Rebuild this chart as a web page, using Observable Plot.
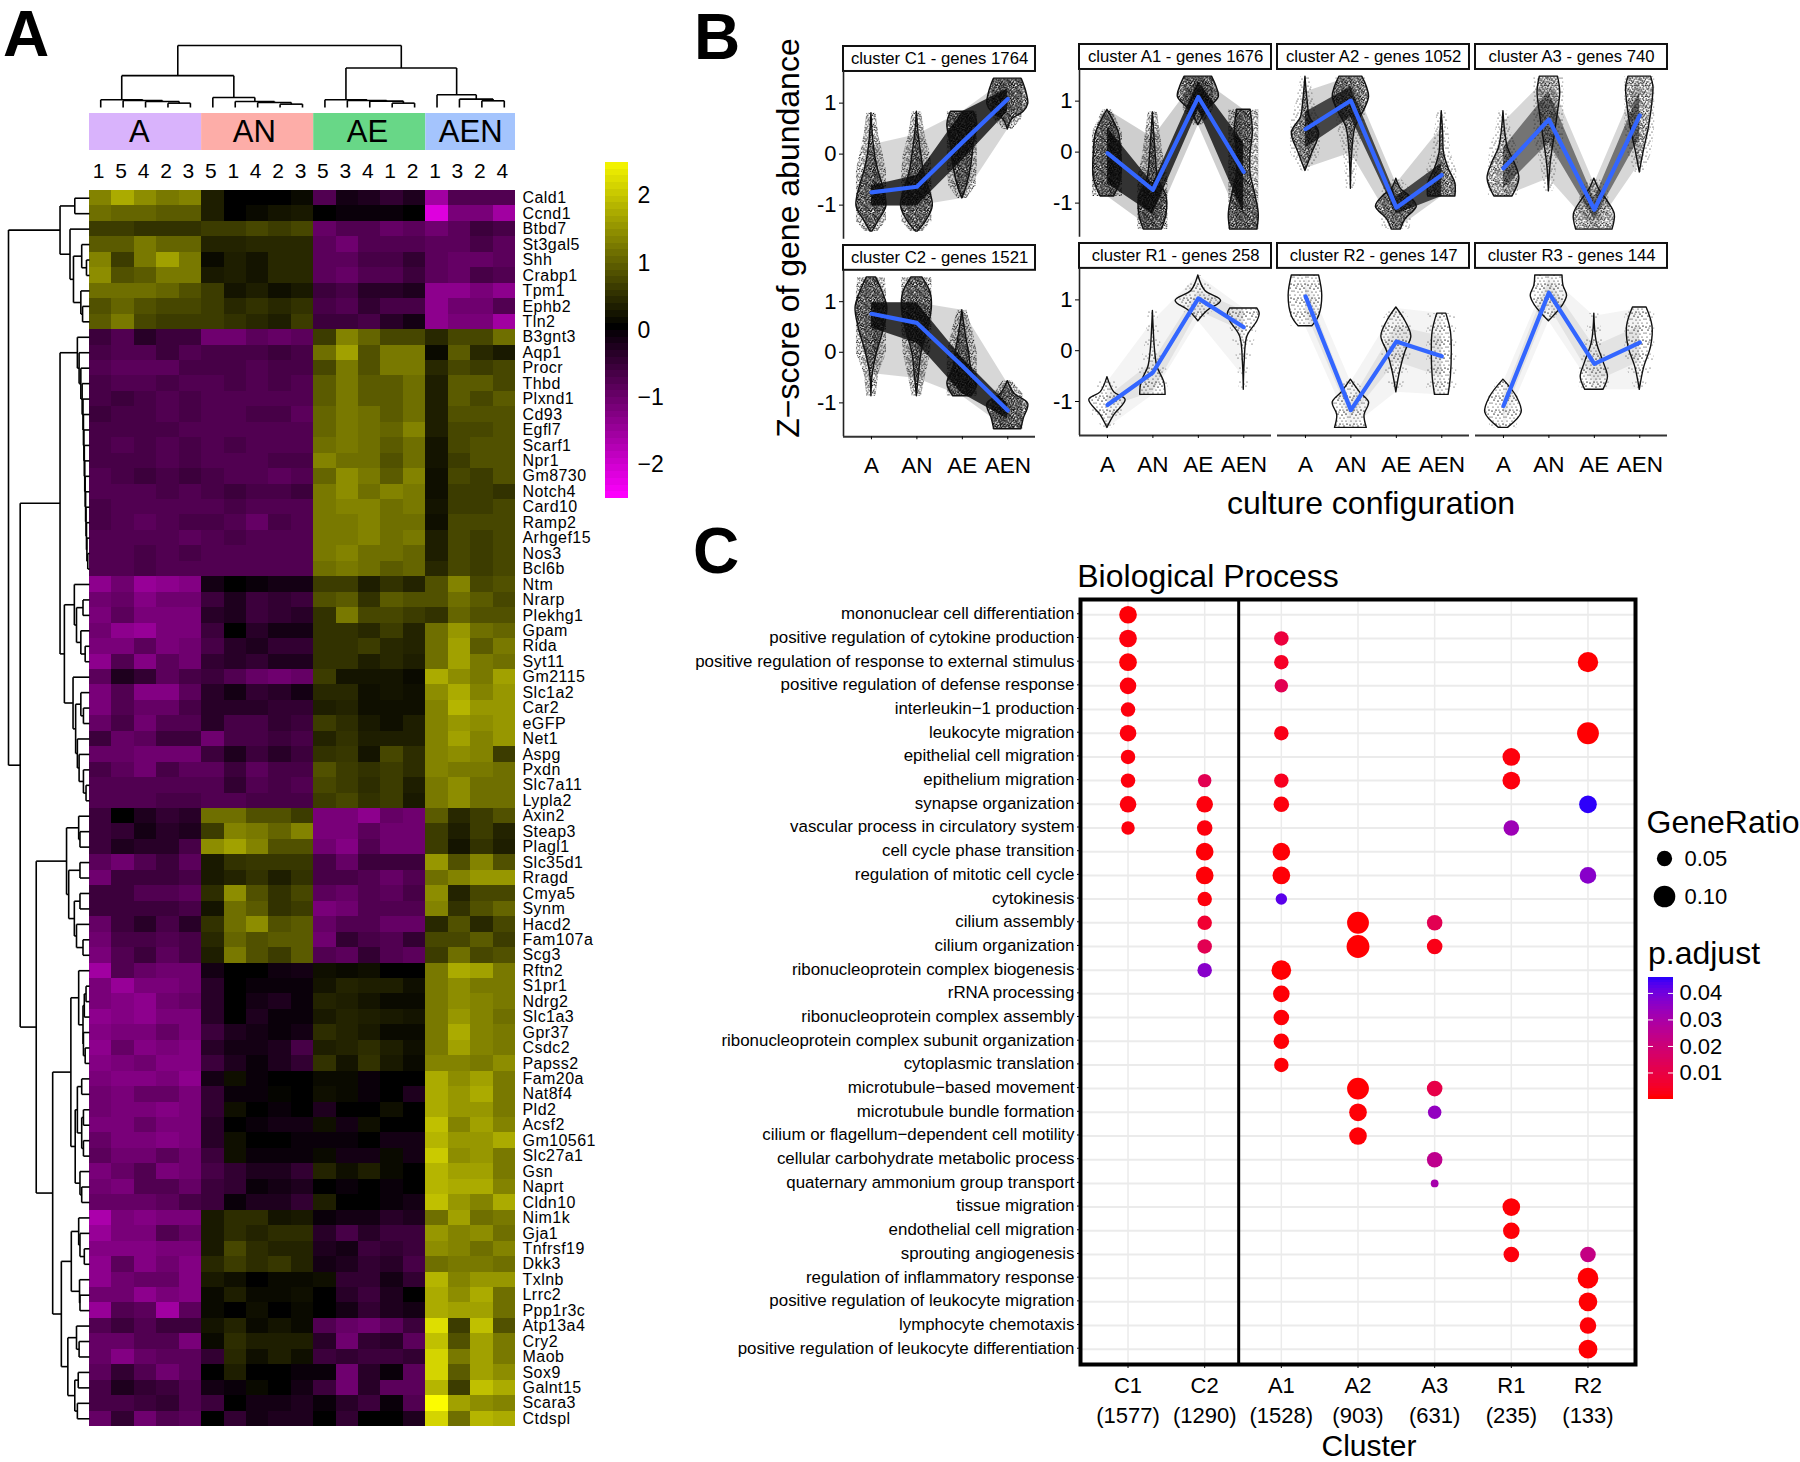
<!DOCTYPE html>
<html>
<head>
<meta charset="utf-8">
<script src="https://cdn.jsdelivr.net/npm/d3@7"></script>
<script src="https://cdn.jsdelivr.net/npm/@observablehq/plot@0.6"></script>
<style>
html,body{margin:0;padding:0;background:#fff;}
#page{position:relative;width:1800px;height:1462px;overflow:hidden;font-family:"Liberation Sans",Arial,sans-serif;color:#000;}
#page svg{overflow:visible;max-width:none;}
.lbl{position:absolute;white-space:nowrap;line-height:1;transform:translate(-50%,-50%);}
.geneaxis text{letter-spacing:.45px;}
</style>
</head>
<body>
<div id="page"></div>
<script>
/* ---------- Panel A data ---------- */
const genes = ["Cald1","Ccnd1","Btbd7","St3gal5","Shh","Crabp1","Tpm1","Ephb2","Tln2","B3gnt3","Aqp1","Procr","Thbd","Plxnd1","Cd93","Egfl7","Scarf1","Npr1","Gm8730","Notch4","Card10","Ramp2","Arhgef15","Nos3","Bcl6b","Ntm","Nrarp","Plekhg1","Gpam","Rida","Syt11","Gm2115","Slc1a2","Car2","eGFP","Net1","Aspg","Pxdn","Slc7a11","Lypla2","Axin2","Steap3","Plagl1","Slc35d1","Rragd","Cmya5","Synm","Hacd2","Fam107a","Scg3","Rftn2","S1pr1","Ndrg2","Slc1a3","Gpr37","Csdc2","Papss2","Fam20a","Nat8f4","Pld2","Acsf2","Gm10561","Slc27a1","Gsn","Naprt","Cldn10","Nim1k","Gja1","Tnfrsf19","Dkk3","Txlnb","Lrrc2","Ppp1r3c","Atp13a4","Cry2","Maob","Sox9","Galnt15","Scara3","Ctdspl"];
const sampleLabels = ["1","5","4","2","3","5","1","4","2","3","5","3","4","1","2","1","3","2","4"];
const sampleGroups = ["A","AN","AE","AEN"];
const groupSizes = [5,5,5,4];
const groupColors = ["#D9B3FC","#FDADA8","#68D787","#A4C4FD"];
const heatValues = [
[1.3,1.7,1.4,1.2,1.3,.3,0,0,0,.1,-.8,-.2,-.3,-.5,-.3,-1.6,-.8,-.8,-.8],
[1.1,1,1,.9,.9,.3,0,.1,.2,.25,0,-.1,-.1,-.1,0,-2.2,-1.2,-1.2,-1.6],
[.6,.6,.5,.5,.5,.6,.6,.7,.6,.7,-1,-.8,-.8,-1,-.9,-1.1,-.9,-.6,-.7],
[.9,.9,1.2,1,1,.35,.35,.4,.4,.4,-.9,-1.1,-.8,-.8,-.8,-.9,-.9,-.7,-.9],
[1.3,.6,1.2,1.6,1.2,.1,.3,.2,.4,.4,-.9,-.9,-.7,-.7,-.5,-.9,-1,-1,-.9],
[1.4,.8,.9,1.2,1.2,.25,.3,.2,.4,.4,-.9,-1,-.8,-.8,-.6,-.9,-1,-.7,-.8],
[1.1,1.1,1.1,1,.8,.6,.2,.3,.15,.25,-.6,-.7,-.4,-.4,-.3,-1.4,-1.4,-1.2,-1.4],
[.8,1,.8,.7,.7,.6,.4,.5,.4,.5,-.7,-.8,-.5,-.7,-.7,-1.4,-1.1,-1.1,-.8],
[.9,1.2,.7,.6,.6,.6,.5,.4,.3,.6,-.6,-.6,-.7,-.4,-.2,-1.4,-1.2,-1.2,-1.6],
[-.6,-.8,-.4,-.6,-.6,-1.1,-1.1,-.9,-1,-.9,.6,1.3,1,.7,.7,.4,.7,.7,1.1],
[-.7,-.8,-.8,-.6,-.8,-.7,-.7,-.7,-.6,-.7,1.1,1.6,.8,1.2,1.2,.1,.9,.4,.25],
[-.8,-.9,-.9,-.9,-.7,-.7,-.7,-.8,-.7,-.7,.7,1.2,.8,1.2,1.2,.4,.7,.6,.7],
[-.7,-.8,-.8,-.7,-.8,-.8,-.7,-.8,-.7,-.8,.9,1.2,.9,.9,1.1,.3,.9,.9,.7],
[-.7,-.6,-.7,-.8,-.7,-.8,-.8,-.8,-.8,-.8,.9,1.2,.9,.9,1.1,.3,.9,.7,.9],
[-.6,-.7,-.7,-.8,-.7,-.8,-.8,-.7,-.7,-.9,1,1.2,1.1,.9,1.1,.3,.8,.8,.8],
[-.7,-.7,-.7,-.7,-.8,-.8,-.8,-.8,-.8,-.8,1,1.2,1.1,1,1.3,.3,.7,.7,.8],
[-.7,-.8,-.7,-.8,-.7,-.8,-.7,-.8,-.8,-.8,1.1,1.2,1.1,.9,1.1,.2,.7,.8,.8],
[-.7,-.7,-.7,-.8,-.7,-.8,-.8,-.8,-.7,-.7,1.3,1.1,1.1,.8,1.1,.2,.6,.8,.8],
[-.8,-.7,-.6,-.7,-.6,-.7,-.8,-.8,-.9,-.8,1,1.4,1.2,.9,1.3,.15,.7,.6,.8],
[-.8,-.8,-.8,-.7,-.8,-.7,-.6,-.7,-.7,-.6,1.2,1.4,1.1,1.3,1.2,.15,.6,.6,.5],
[-.7,-.8,-.8,-.8,-.8,-.8,-.7,-.8,-.8,-.8,1.2,1.3,1.3,1.1,1.2,.2,.6,.6,.7],
[-.7,-.8,-.9,-.8,-.7,-.7,-.8,-1,-.7,-.8,1.2,1.2,1.3,1.1,1.1,.15,.7,.7,.7],
[-.8,-.8,-.8,-.8,-.9,-.8,-.7,-.8,-.8,-.8,1.2,1.2,1.3,1.1,1.2,.3,.7,.6,.7],
[-.8,-.8,-.7,-.8,-.7,-.8,-.8,-.8,-.8,-.8,1.2,1.3,1.1,1.1,1,.3,.7,.6,.7],
[-.8,-.8,-.7,-.8,-.8,-.8,-.8,-.8,-.8,-.8,1.1,1.2,1.1,.9,1,.4,.7,.6,.7],
[-1.4,-1.1,-1.5,-1.4,-1.3,-.2,0,-.1,-.2,-.2,.6,.6,.3,.5,.35,.8,1.3,.7,.8],
[-1.1,-1,-1.3,-1.1,-1.1,-.6,-.3,-.6,-.5,-.6,.8,.9,.5,.9,.8,.8,1.1,.9,.7],
[-1.2,-.9,-1.2,-1.2,-1.2,-.4,-.3,-.6,-.5,-.4,.5,1.2,.7,.7,.6,.5,1,.8,.8],
[-1.1,-1.4,-1.5,-1.2,-1.2,-.6,0,-.4,-.2,-.2,.5,.5,.4,.6,.35,1.1,1.5,1.1,1],
[-1.2,-1.2,-.9,-1.2,-1.1,-.7,-.4,-.3,-.5,-.5,.5,.5,.6,.4,.35,1.1,1.6,.9,1.2],
[-1.4,-.8,-1.3,-.9,-1.1,-.5,-.4,-.5,-.3,-.3,.5,.5,.3,.4,.3,1.1,1.6,1.2,1.1],
[-.9,-.3,-.5,-.9,-.7,-.6,-.8,-1,-1.1,-1,.6,.2,.2,.2,.1,1.7,1.4,1.2,1.6],
[-1.2,-.8,-1.3,-1.3,-.9,-.4,-.2,-.5,-.4,-.2,.4,.4,.15,.2,.15,1.4,1.7,1.3,1.5],
[-1.2,-.8,-1,-1,-.7,-.4,-.4,-.4,-.5,-.5,.3,.35,.15,.15,.15,1.3,1.8,1.5,1.5],
[-1,-.7,-1.1,-.8,-.8,-.4,-.7,-.7,-.5,-.6,.6,.45,.25,.15,.3,1.3,1.5,1.4,1.5],
[-.6,-1,-.9,-.6,-.6,-1.1,-.7,-.7,-.6,-.7,.35,.5,.3,.3,.3,1.3,1.6,1.3,1.5],
[-1,-1,-1.1,-1.1,-1.1,-.6,-.3,-.6,-.4,-.6,.5,.55,.2,.7,.45,1.3,1.4,1.3,.6],
[-.7,-.9,-1.1,-.7,-.9,-.9,-.6,-.9,-.7,-.7,.8,.6,.5,.6,.45,1.3,1.2,1.2,1.1],
[-.8,-.8,-.8,-.8,-.8,-.8,-.5,-.8,-.7,-.8,.7,.6,.45,.6,.3,1.2,1.4,1.1,1.1],
[-.8,-.8,-.8,-.7,-.7,-.8,-.8,-.7,-.7,-.7,.6,.7,.5,.6,.25,1.2,1.4,1.1,1.1],
[-.6,0,-.3,-.5,-.4,1.1,1.1,.8,.8,.6,-1.2,-1.2,-1.4,-1,-1.1,.9,.4,.6,.8],
[-.6,-.5,-.2,-.4,-.3,.6,1.3,1.2,1,1.3,-1.2,-1.2,-.9,-1.1,-1.1,.6,.3,.6,.35],
[-.6,-.3,-.4,-.4,-.7,1.4,1.6,1.3,.8,.8,-1.1,-1.3,-.8,-1.1,-1.1,.6,.2,.5,.3],
[-.9,-1.1,-.8,-.6,-.9,.25,.5,.55,.55,.55,-.7,-1,-.6,-.6,-.6,1.5,.8,1.3,.8],
[-1.1,-.6,-.6,-.6,-.7,.25,.35,.5,.3,.5,-.7,-.7,-.8,-1,-.8,1.1,1.3,1.5,1.5],
[-.6,-.6,-.8,-.8,-.9,.45,1.4,.8,.5,.7,-.9,-1,-.8,-.9,-.7,1.4,.35,.7,.7],
[-.6,-.6,-.6,-.6,-.7,.2,1.1,.9,.5,.6,-1.2,-1.1,-.8,-.8,-.8,1.3,.5,.8,1],
[-1,-.6,-.4,-.7,-.4,.5,1.1,1.4,.8,.9,-1,-.8,-.8,-1,-1,.4,.8,.4,.7],
[-1.1,-.7,-.7,-.8,-.7,.4,1,.8,.9,.9,-1.1,-.5,-.7,-.8,-.5,.7,.7,.9,.6],
[-1.2,-.8,-.6,-.9,-.7,.3,1.2,.8,.6,.9,-.8,-.9,-.5,-.8,-.9,.6,1.1,.7,.8],
[-1.6,-.8,-1,-1.1,-1.1,-.2,0,0,-.15,-.2,.15,.1,.15,0,0,1.2,1.7,1.6,1.2],
[-1.2,-1.5,-1.2,-1.2,-1.1,-.4,0,-.1,-.1,-.1,.2,.35,.3,.3,.15,1.2,1.4,1.2,1.2],
[-1.2,-1.3,-1.4,-1.1,-1,-.4,0,-.2,-.3,-.1,.35,.3,.2,.1,.1,1.2,1.4,1.3,1.2],
[-1.4,-1.3,-1.4,-1.2,-1.2,-.4,0,-.3,-.1,-.1,.25,.35,.3,.25,.2,1.2,1.5,1.3,1.1],
[-1.3,-1.2,-1.2,-1,-1.2,-.6,-.3,-.2,-.1,-.2,.45,.35,.25,.1,.1,1.2,1.7,1.3,1.2],
[-1.4,-1,-1.3,-1.2,-1.3,-.4,-.2,-.2,-.3,-.7,.3,.35,.45,.3,.15,1.2,1.6,1.3,1.2],
[-1.3,-1.2,-1.1,-1.3,-1.3,-.6,-.3,-.1,-.3,-.5,.5,.2,.5,.25,.1,1.3,1.3,1.2,1.4],
[-1.2,-1.3,-1.3,-1.2,-1.4,-.2,.15,-.1,0,0,.1,.1,-.1,0,0,1.7,1.4,1.6,1.2],
[-1.1,-1.2,-1,-1,-1.2,-.5,-.1,-.1,.05,0,.15,.1,-.1,0,-.3,1.7,1.5,1.7,1.2],
[-1.1,-1.2,-1.2,-1.3,-1.2,-.5,.15,0,-.1,0,-.3,0,0,.15,0,1.7,1.5,1.5,1.2],
[-1.2,-1.2,-1,-1.2,-1.2,-.4,0,-.1,-.2,-.2,.15,-.2,.15,0,0,1.9,1.3,1.6,1.3],
[-1,-1.2,-1.2,-1.3,-1.2,-.4,.15,0,0,-.1,-.1,-.1,0,-.2,-.2,1.8,1.5,1.5,1.7],
[-.9,-1.1,-1.1,-.9,-1.1,-.6,.15,-.1,-.1,-.1,.1,-.2,-.2,.1,-.2,2,1.4,1.5,1.2],
[-1.2,-1,-.8,-1.2,-1.1,-.7,-.5,-.3,-.3,-.5,.35,.15,.3,.1,0,1.8,1.6,1.6,1.2],
[-1.1,-1.2,-.8,-.8,-1,-.6,-.5,-.1,-.2,-.3,0,-.1,0,-.1,0,1.8,1.7,1.7,1.3],
[-1,-1,-1,-.9,-.7,-.6,-.1,-.3,-.3,-.5,.3,0,0,-.1,-.2,1.9,1.5,1.3,1.7],
[-1.7,-1.2,-1.3,-1.2,-1.2,.25,.45,.45,.2,.25,-.1,-.2,-.2,-.4,-.3,1.1,1.6,1.1,1.2],
[-1.5,-1.2,-1.2,-.8,-1,.25,.45,.35,.45,.45,-.4,-.7,-.4,-.6,-.6,1.5,1.3,1.4,1.1],
[-1.3,-1.3,-1.3,-1.2,-1.2,.25,.7,.45,.35,.35,-.3,-.2,-.6,-.5,-.6,1.4,1.3,1.1,1.3],
[-1.4,-.9,-1.3,-1.1,-1.3,.4,.6,.45,.55,.35,-.2,-.3,-.5,-.4,-.7,1.1,1.2,1.2,1.1],
[-1.4,-1.1,-1,-1,-1.3,.25,.15,0,.1,.1,.15,-.5,-.5,-.2,-.5,1.8,1.3,1.5,1.5],
[-1.1,-1.1,-1.4,-1.2,-1.3,.1,.3,.1,.1,.15,0,-.4,-.6,-.3,0,1.7,1.4,1.7,1.1],
[-1.5,-.8,-.9,-1.6,-.9,.1,0,.15,0,.1,0,-.2,-.5,-.3,-.2,1.7,1.6,1.6,1.1],
[-.8,-.6,-.8,-.6,-.6,.2,.35,.1,.2,.1,-.8,-1,-1.1,-.9,-.6,2.2,.6,1.9,.8],
[-1,-1,-.8,-.8,-1.2,.1,.45,.3,.3,.3,-.4,-1.1,-.5,-.4,-.9,1.9,.8,1.6,1.2],
[-1,-1.3,-1,-.9,-.9,-.5,.4,.15,.3,.15,-.6,-.5,-.6,-.6,-.5,2.1,1.2,1.6,1.2],
[-.9,-.5,-.8,-1.1,-.9,0,.3,0,0,-.1,-.1,-1.1,-.4,-.1,-.9,2.1,.9,1.6,1.4],
[-.7,-.3,-.5,-.6,-.8,-.2,-.1,.1,0,-.2,-.6,-1.1,-.4,-.9,-.9,1.8,.6,1.9,1.7],
[-.7,-.7,-.6,-.5,-.8,-.6,0,-.2,-.2,-.3,-.1,-.4,-.6,-.1,-.8,2.5,1.6,1.4,1.3],
[-1,-.5,-1.1,-.8,-.9,0,-.5,-.2,-.3,-.3,0,-.5,0,0,-.3,2.1,1.1,1.8,1.7]
];
/* dendrograms: [merge height, left, right]; a number is a leaf index */
const colTreeA = [23,0,[21,1,[18,2,[13,3,4]]]];
const colTreeAN = [30,5,[18,6,[15,7,[10,8,9]]]];
const colTreeAE = [23,10,[21,11,[19,12,[13,13,14]]]];
const colTreeAEN = [38,15,[25,16,[20,17,18]]];
const colTree = [185,[95,colTreeA,colTreeAN],[118,colTreeAE,colTreeAEN]];
const rowTreeTop = [68,[34,0,1],[45,2,[37,[18,3,[7,4,5]],[20,6,[16,7,8]]]]];
const rowTreeEndo = [28,9,[24,10,[20,11,[17,12,[15,13,[14,14,[13,15,[12,16,[11,17,[10,18,[9,19,[8,20,[7,21,[6,22,[4,23,24]]]]]]]]]]]]]]];
const rowTreeNtm = [35,25,[30,[15,26,27],[20,28,[10,29,30]]]];
const rowTreeGm = [38,31,[32,[20,32,[14,33,34]],[28,35,[24,36,[14,37,[8,38,39]]]]]];
const rowTreeAxin = [53,[25,40,[22,41,42]],[48,[22,43,44],[35,[22,45,46],[30,47,[15,48,49]]]]];
const rowTreeRftn = [43,[25,50,[15,[12,[8,51,52],53],[14,54,[10,55,56]]]],[33,[28,[18,57,58],[18,[14,59,60],[14,61,62]]],[22,63,[18,64,65]]]];
const rowTreeNim = [65,[42,[25,66,[22,67,[12,68,69]]],[23,70,[22,71,72]]],[50,[30,73,[24,74,75]],[34,[26,76,77],[28,78,79]]]];
const rowTree = [187,rowTreeTop,[160,[68,rowTreeEndo,[58,rowTreeNtm,rowTreeGm]],[123,rowTreeAxin,[85,rowTreeRftn,rowTreeNim]]]];
const heatLegendTicks = [2,1,0,-1,-2];

/* ---------- Panel B data ---------- */
const configs = ["A","AN","AE","AEN"];
const meanC1 = [-.73,-.62,.25,1.1];
const meanA1 = [0,-.72,1.1,-.37];
const meanA2 = [.47,1.03,-1.07,-.43];
const meanA3 = [-.3,.66,-1.11,.74];
const meanC2 = [.78,.6,-.25,-1.13];
const meanR1 = [-1.05,-.41,1.05,.48];
const meanR2 = [1.09,-1.15,.2,-.09];
const meanR3 = [-1.07,1.16,-.24,.18];
/* violin profiles per configuration: [z-score, half width in category units] */
const violinC1 = [[[-1.5,.02],[-1.3,.15],[-1,.33],[-.6,.25],[-.3,.15],[0,.08],[.4,.03],[.82,0]],[[-1.5,.02],[-1.3,.2],[-1,.35],[-.6,.25],[-.3,.15],[0,.1],[.4,.04],[.85,0]],[[-.85,0],[-.6,.1],[-.2,.2],[.2,.25],[.6,.33],[.85,.25]],[[.5,0],[.7,.1],[.85,.35],[1,.45],[1.2,.42],[1.4,.35],[1.5,.3]]];
const violinA1 = [[[-.85,.15],[-.5,.3],[0,.3],[.4,.25],[.85,0]],[[-1.5,.2],[-1.2,.3],[-.85,.3],[-.5,.12],[0,.06],[.4,.03],[.8,0]],[[.55,0],[.85,.2],[1.1,.45],[1.3,.4],[1.5,.3]],[[-1.5,.3],[-1.2,.33],[-.8,.25],[-.4,.15],[0,.15],[.4,.2],[.85,.15]]];
const violinA2 = [[[-.35,0],[0,.15],[.4,.3],[.7,.1],[1,.05],[1.5,0]],[[-.7,0],[0,.03],[.5,.1],[.85,.3],[1.1,.4],[1.3,.35],[1.5,.25]],[[-1.5,.1],[-1.3,.2],[-1.05,.45],[-.85,.3],[-.7,.1],[-.5,0]],[[-.85,.3],[-.6,.3],[-.3,.15],[0,.05],[.4,.03],[.82,0]]];
const violinA3 = [[[-.85,.2],[-.5,.35],[-.2,.25],[.1,.1],[.4,.04],[.82,0]],[[-.75,0],[-.2,.04],[.3,.12],[.8,.2],[1.2,.25],[1.5,.2]],[[-1.5,.4],[-1.2,.45],[-.95,.3],[-.7,.1],[-.5,0]],[[-.38,0],[0,.08],[.5,.2],[1,.28],[1.3,.3],[1.5,.25]]];
const violinC2 = [[[-.85,0],[-.4,.03],[0,.12],[.5,.28],[.9,.35],[1.2,.25],[1.5,.1]],[[-.85,0],[-.4,.05],[0,.1],[.5,.25],[.9,.33],[1.2,.3],[1.5,.12]],[[-.85,.2],[-.6,.33],[-.3,.2],[0,.15],[.4,.07],[.85,0]],[[-1.5,.3],[-1.3,.35],[-1,.45],[-.8,.15],[-.55,0]]];
const violinR1 = [[[-1.5,0],[-1.25,.15],[-.95,.4],[-.8,.15],[-.5,0]],[[-.85,.28],[-.6,.25],[-.3,.1],[0,.05],[.4,.02],[.8,0]],[[.6,0],[.8,.2],[1,.5],[1.2,.15],[1.5,0]],[[-.75,0],[-.2,.02],[.3,.08],[.6,.3],[.75,.35],[.85,.3]]];
const violinR2 = [[[.5,.15],[.7,.3],[1.1,.37],[1.5,.3]],[[-1.5,.35],[-1.25,.3],[-1,.4],[-.8,.2],[-.55,0]],[[-.8,0],[-.4,.08],[0,.2],[.3,.33],[.6,.2],[.87,0]],[[-.85,.15],[-.5,.2],[0,.22],[.4,.2],[.75,.1]]];
const violinR3 = [[[-1.5,.1],[-1.2,.4],[-.9,.3],[-.55,0]],[[.6,0],[.9,.3],[1.1,.4],[1.3,.32],[1.5,.3]],[[-.75,.2],[-.5,.3],[-.2,.2],[.2,.05],[.75,0]],[[-.75,0],[-.3,.1],[.1,.25],[.5,.28],[.87,.15]]];
/* profile-line bands per configuration: [low, high] */
const coreC1 = [[-1,-.6],[-1,-.4],[-.1,.85],[.85,1.3]], spanC1 = [[-1,.2],[-1,.4],[-.85,.85],[.5,1.5]];
const coreA1 = [[-.6,.5],[-1.2,-.6],[.85,1.4],[-1.2,.2]], spanA1 = [[-.85,.85],[-1.5,.3],[.55,1.5],[-1.5,.85]];
const coreA2 = [[.1,.8],[.7,1.3],[-1.2,-.85],[-.85,-.2]], spanA2 = [[-.3,1.2],[0,1.5],[-1.5,-.6],[-.85,.5]];
const coreA3 = [[-.7,.1],[.2,1.2],[-1.3,-.9],[.3,1.2]], spanA3 = [[-.85,.6],[-.5,1.5],[-1.5,-.6],[-.2,1.5]];
const coreC2 = [[.5,1],[.2,1],[-.8,-.1],[-1.3,-1]], spanC2 = [[-.4,1],[-.5,1],[-.85,.85],[-1.5,-.6]];
const coreR1 = [[-1.1,-.9],[-.8,-.2],[.8,1.2],[.4,.8]], spanR1 = [[-1.5,-.6],[-.85,.6],[.6,1.5],[-.5,.85]];
const coreR2 = [[.8,1.3],[-1.3,-1],[-.2,.5],[-.5,.3]], spanR2 = [[.5,1.5],[-1.5,-.6],[-.8,.85],[-.85,.75]];
const coreR3 = [[-1.3,-.9],[.9,1.4],[-.6,.1],[-.2,.5]], spanR3 = [[-1.5,-.6],[.6,1.5],[-.75,.7],[-.75,.85]];

/* ---------- Panel C data ---------- */
const terms = ["mononuclear cell differentiation","positive regulation of cytokine production","positive regulation of response to external stimulus","positive regulation of defense response","interleukin−1 production","leukocyte migration","epithelial cell migration","epithelium migration","synapse organization","vascular process in circulatory system","cell cycle phase transition","regulation of mitotic cell cycle","cytokinesis","cilium assembly","cilium organization","ribonucleoprotein complex biogenesis","rRNA processing","ribonucleoprotein complex assembly","ribonucleoprotein complex subunit organization","cytoplasmic translation","microtubule−based movement","microtubule bundle formation","cilium or flagellum−dependent cell motility","cellular carbohydrate metabolic process","quaternary ammonium group transport","tissue migration","endothelial cell migration","sprouting angiogenesis","regulation of inflammatory response","positive regulation of leukocyte migration","lymphocyte chemotaxis","positive regulation of leukocyte differentiation"];
const clusters = ["C1","C2","A1","A2","A3","R1","R2"];
const clusterCounts = ["1577","1290","1528","903","631","235","133"];
/* [term index, cluster, GeneRatio, p.adjust] */
const enrichment = [
[0,"C1",.067,.0005],[1,"C1",.067,.001],[1,"A1",.045,.008],[2,"C1",.067,.0005],[2,"A1",.045,.004],[2,"R2",.089,.0002],
[3,"C1",.059,.001],[3,"A1",.039,.012],[4,"C1",.045,.001],[5,"C1",.059,.001],[5,"A1",.045,.002],[5,"R2",.102,.0002],
[6,"C1",.045,.001],[6,"R1",.067,.001],[7,"C1",.045,.001],[7,"C2",.039,.012],[7,"A1",.045,.003],[7,"R1",.067,.001],
[8,"C1",.059,.001],[8,"C2",.059,.001],[8,"A1",.052,.001],[8,"R2",.067,.045],[9,"C1",.039,.001],[9,"C2",.052,.001],[9,"R1",.052,.032],
[10,"C2",.067,.0005],[10,"A1",.067,.0005],[11,"C2",.067,.0005],[11,"A1",.067,.0005],[11,"R2",.059,.036],[12,"C2",.045,.001],[12,"A1",.028,.042],
[13,"C2",.045,.006],[13,"A2",.102,.0002],[13,"A3",.052,.012],[14,"C2",.045,.012],[14,"A2",.112,.0002],[14,"A3",.052,.002],
[15,"C2",.045,.036],[15,"A1",.083,.0002],[16,"A1",.059,.0005],[17,"A1",.052,.0005],[18,"A1",.052,.0005],[19,"A1",.045,.0005],
[20,"A2",.102,.0002],[20,"A3",.052,.01],[21,"A2",.067,.0005],[21,"A3",.039,.034],[22,"A2",.067,.0005],[23,"A3",.052,.024],[24,"A3",.013,.03],
[25,"R1",.067,.0005],[26,"R1",.059,.0005],[27,"R1",.052,.001],[27,"R2",.052,.022],[28,"R2",.092,.0002],[29,"R2",.075,.0002],[30,"R2",.059,.0005],[31,"R2",.075,.0002]
];
const ratioTicks = [.05,.10];
const padjustTicks = [.01,.02,.03,.04];

/* ---------- helpers ---------- */
const page = document.getElementById("page");
const FONT = '"Liberation Sans", Arial, sans-serif';
function place(options, left, top) {
  const el = Plot.plot({...options, style:{position:"absolute",left:left+"px",top:top+"px",background:"transparent",fontFamily:FONT,color:"#000",overflow:"visible",maxWidth:"none"}});
  page.appendChild(el);
  return el;
}
function label(text, x, y, size, extra = {}) {
  const d = document.createElement("div");
  d.className = "lbl";
  d.textContent = text;
  d.style.left = x + "px";
  d.style.top = y + "px";
  d.style.fontSize = size + "px";
  for (const k in extra) d.style[k] = extra[k];
  page.appendChild(d);
}
function treeSegments(tree) {
  const segs = [];
  (function walk(n) {
    if (typeof n === "number") return {p:n, h:0};
    const [h, a, b] = n, l = walk(a), r = walk(b);
    segs.push({p1:l.p,h1:l.h,p2:l.p,h2:h},{p1:r.p,h1:r.h,p2:r.p,h2:h},{p1:l.p,h1:h,p2:r.p,h2:h});
    return {p:(l.p+r.p)/2, h};
  })(tree);
  return segs;
}

/* stipple textures standing for the thousands of gene dots */
const tile = [[1,2],[5,1],[9,3],[12,1],[3,5],[7,6],[11,5],[13,8],[1,8],[5,9],[9,9],[2,12],[7,12],[11,12],[4,3],[8,1],[13,3],[6,4],[10,7],[3,10],[7,10],[12,10],[1,13],[9,13],[5,6],[0,5],[8,7],[13,12]];
const defs = d3.select(page).append("svg").attr("width",0).attr("height",0).style("position","absolute").append("defs");
[["stipDense",28,1.1,.6,"#000"],["stipMid",28,.85,.8,"#000"],["stipLight",16,.6,1,"#111"],["stipSparse",7,.55,1,"#222"]].forEach(([id,n,r,s,c]) => {
  const p = defs.append("pattern").attr("id",id).attr("patternUnits","userSpaceOnUse").attr("width",14).attr("height",14).attr("patternTransform",`scale(${s})`);
  tile.slice(0,n).forEach(([x,y]) => p.append("circle").attr("cx",x).attr("cy",y).attr("r",r).attr("fill",c));
});

/* ---------- Panel A ---------- */
label("A", 26, 34, 64, {fontWeight:"bold"});

const colorHeat = {type:"linear", domain:[-2.53,0,2.53], range:["#ff00ff","#000000","#ffff00"], clamp:true};
const HW = 426;

// column dendrogram
place({width:HW, height:62, margin:0,
  x:{domain:[-.5,18.5], range:[0,HW], axis:null},
  y:{domain:[0,185], range:[62,0], axis:null},
  marks:[Plot.link(treeSegments(colTree),{x1:"p1",x2:"p2",y1:"h1",y2:"h2",stroke:"#000",strokeWidth:1.6})]
}, 89, 44.5);

// annotation band
let gStart = 0;
const groupLabelShift = [-.28,-.15,-.1,0];
const groupBands = sampleGroups.map((g,i) => { const b = {g, start:gStart, end:gStart+groupSizes[i], shift:groupLabelShift[i]}; gStart = b.end; return b; });
place({width:HW, height:37, margin:0,
  x:{domain:[0,19], range:[0,HW], axis:null},
  y:{domain:[0,1], range:[37,0], axis:null},
  color:{domain:sampleGroups, range:groupColors},
  marks:[
    Plot.rect(groupBands,{x1:"start",x2:"end",y1:0,y2:1,fill:"g"}),
    Plot.text(groupBands,{x:d=>(d.start+d.end)/2+d.shift,y:.5,text:"g",fontSize:31,fill:"#000"})
  ]
}, 89, 113);

// heatmap
const heatCells = heatValues.flatMap((row,r) => row.map((v,c) => ({gene:genes[r], col:c, v})));
place({width:HW+70, height:1236+32, marginLeft:0, marginRight:70, marginTop:32, marginBottom:0,
  x:{type:"band", domain:d3.range(19), padding:0, round:false},
  y:{type:"band", domain:genes, padding:0, round:false},
  color:colorHeat,
  marks:[
    Plot.cell(heatCells,{x:"col",y:"gene",fill:"v",shapeRendering:"crispEdges"}),
    Plot.axisX({anchor:"top",tickSize:0,tickPadding:13,dx:-2,fontSize:21,label:null,tickFormat:i=>sampleLabels[i]}),
    Plot.axisY({anchor:"right",tickSize:0,tickPadding:7,fontSize:16,label:null,className:"geneaxis"})
  ]
}, 89, 158);

// row dendrogram
place({width:81, height:1236, margin:0,
  x:{domain:[187,0], range:[0,81], axis:null},
  y:{domain:[-.5,79.5], range:[0,1236], axis:null},
  marks:[Plot.link(treeSegments(rowTree),{x1:"h1",x2:"h2",y1:"p1",y2:"p2",stroke:"#000",strokeWidth:1.6})]
}, 8, 190);

// heat colour key
const heatKey = d3.range(-2.5,2.5,.1).map(v => ({v}));
place({width:23+40, height:338, marginLeft:0, marginRight:40, marginTop:0, marginBottom:0,
  x:{domain:[0,1], axis:null},
  y:{domain:[-2.5,2.53], range:[338,0]},
  color:colorHeat,
  marks:[
    Plot.rect(heatKey,{x1:0,x2:1,y1:"v",y2:d=>d.v+.1,fill:"v",shapeRendering:"crispEdges"}),
    Plot.axisY({anchor:"right",ticks:heatLegendTicks,tickSize:0,tickPadding:9,fontSize:23,label:null,tickFormat:d=>d<0?"−"+(-d):String(d)})
  ]
}, 605, 160);

/* ---------- Panel B ---------- */
label("B", 717, 37, 64, {fontWeight:"bold"});
label("Z−score of gene abundance", 788, 238, 32, {transform:"translate(-50%,-50%) rotate(-90deg)"});
label("culture configuration", 1371, 503, 32);

function facet({name,genes:n,mean,violin,core,span,left,top,unit,yAxis,xAxis,stip,coreOp,spanOp}) {
  const ML = 40, MB = xAxis ? 50 : 2, MT = 2;
  const H = unit*3.78;
  const cat = d => d+1;
  const cores = core.map((d,i) => ({c:cat(i),lo:d[0],hi:d[1]}));
  const spans = span.map((d,i) => ({c:cat(i),lo:d[0],hi:d[1]}));
  const vio = violin.flatMap((prof,i) => prof.map(([y,w]) => ({id:i,c:cat(i),y,w})));
  const cloudWidth = w => Math.min(.33, .1 + w*2);
  const means = mean.map((v,i) => ({c:cat(i),v}));
  const marks = [
    Plot.areaY(spans,{x:"c",y1:"lo",y2:"hi",fill:"#222",fillOpacity:spanOp}),
    Plot.areaY(cores,{x:"c",y1:"lo",y2:"hi",fill:"#222",fillOpacity:coreOp}),
    Plot.areaX(vio,{x1:d=>d.c-cloudWidth(d.w),x2:d=>d.c+cloudWidth(d.w),y:"y",z:"id",fill:`url(#${stip[0]})`}),
    Plot.areaX(vio,{x1:d=>d.c-d.w,x2:d=>d.c+d.w,y:"y",z:"id",curve:"catmull-rom",fill:`url(#${stip[1]})`}),
    Plot.areaX(vio,{x1:d=>d.c-d.w,x2:d=>d.c+d.w,y:"y",z:"id",curve:"catmull-rom",fill:"none",stroke:"#111",strokeWidth:1.4}),
    Plot.line(means,{x:"c",y:"v",stroke:"#3366FF",strokeWidth:4.2}),
    Plot.rect([0],{x1:.385,x2:4.61,y1:1.64,y2:2.13,fill:"#fff",stroke:"#111",strokeWidth:2}),
    Plot.text([`cluster ${name} - genes ${n}`],{x:2.5,y:1.885,text:d=>d,fontSize:16.7,fill:"#000"})
  ];
  if (yAxis) marks.push(
    Plot.ruleX([.385],{y1:-1.65,y2:1.64,stroke:"#222",strokeWidth:1.6}),
    Plot.axisY({ticks:[-1,0,1],tickSize:4,tickPadding:3,fontSize:22,dy:-1,label:null,tickFormat:d=>d<0?"-1":String(d)})
  );
  else marks.push(Plot.axisY({ticks:[],label:null}));
  if (xAxis) marks.push(
    Plot.ruleY([-1.65],{x1:.385,x2:4.61,stroke:"#333",strokeWidth:2}),
    Plot.axisX({ticks:[1,2,3,4],tickSize:3,tickPadding:17,fontSize:22.5,label:null,tickFormat:d=>configs[d-1]})
  );
  else marks.push(Plot.axisX({ticks:[],label:null}));
  place({width:ML+192+3, height:MT+H+MB, marginLeft:ML, marginRight:3, marginTop:MT, marginBottom:MB,
    x:{domain:[.385,4.61]}, y:{domain:[-1.65,2.13]}, marks}, left-ML, top-MT);
}
const dense = ["stipMid","stipDense"], mid = ["stipLight","stipDense"], some = ["stipLight","stipMid"], thin = ["stipSparse","stipLight"];
facet({name:"C1",genes:1764,mean:meanC1,violin:violinC1,core:coreC1,span:spanC1,left:843,top:45.5,unit:51,yAxis:true,xAxis:false,stip:dense,coreOp:.9,spanOp:.18});
facet({name:"A1",genes:1676,mean:meanA1,violin:violinA1,core:coreA1,span:spanA1,left:1079,top:43.7,unit:51,yAxis:true,xAxis:false,stip:dense,coreOp:.9,spanOp:.22});
facet({name:"A2",genes:1052,mean:meanA2,violin:violinA2,core:coreA2,span:spanA2,left:1277,top:43.7,unit:51,yAxis:false,xAxis:false,stip:mid,coreOp:.8,spanOp:.2});
facet({name:"A3",genes:740,mean:meanA3,violin:violinA3,core:coreA3,span:spanA3,left:1475,top:43.7,unit:51,yAxis:false,xAxis:false,stip:some,coreOp:.55,spanOp:.18});
facet({name:"C2",genes:1521,mean:meanC2,violin:violinC2,core:coreC2,span:spanC2,left:843,top:244.5,unit:50.6,yAxis:true,xAxis:true,stip:dense,coreOp:.9,spanOp:.18});
facet({name:"R1",genes:258,mean:meanR1,violin:violinR1,core:coreR1,span:spanR1,left:1079,top:243,unit:50.8,yAxis:true,xAxis:true,stip:thin,coreOp:.08,spanOp:.05});
facet({name:"R2",genes:147,mean:meanR2,violin:violinR2,core:coreR2,span:spanR2,left:1277,top:243,unit:50.8,yAxis:false,xAxis:true,stip:thin,coreOp:.08,spanOp:.05});
facet({name:"R3",genes:144,mean:meanR3,violin:violinR3,core:coreR3,span:spanR3,left:1475,top:243,unit:50.8,yAxis:false,xAxis:true,stip:thin,coreOp:.08,spanOp:.05});

/* ---------- Panel C ---------- */
label("C", 716, 551, 64, {fontWeight:"bold"});
label("Biological Process", 1208, 576, 32);
label("Cluster", 1369, 1446, 30);

const pColor = {type:"linear", domain:[0,.046], range:["#ff0000","#0000ff"], interpolate:"lab"};
const rScale = {type:"sqrt", domain:[0,.1], range:[0,10.8]};
const dots = enrichment.map(([t,c,g,p]) => ({term:terms[t],cluster:c,g,p}));
const MLc = 420, MBc = 70;
place({width:MLc+555, height:765+MBc+3, marginLeft:MLc, marginRight:0, marginTop:3, marginBottom:MBc,
  x:{type:"point", domain:clusters, padding:.62, round:false},
  y:{type:"point", domain:terms, padding:.645, round:false},
  color:pColor, r:rScale,
  marks:[
    Plot.ruleY(terms,{y:d=>d,stroke:"#ebebeb",strokeWidth:2}),
    Plot.ruleX(clusters,{x:d=>d,stroke:"#ebebeb",strokeWidth:1.5}),
    Plot.dot(dots,{x:"cluster",y:"term",r:"g",fill:"p"}),
    Plot.frame({stroke:"#000",strokeWidth:4}),
    Plot.ruleX(["C2"],{x:d=>d,dx:34,stroke:"#000",strokeWidth:3}),
    Plot.axisY({tickSize:3,tickPadding:3,dy:-1,fontSize:16.9,label:null}),
    Plot.axisX({tickSize:4,tickPadding:3,fontSize:22,lineHeight:1.36,label:null,tickFormat:(d,i)=>`${d}\n(${clusterCounts[clusters.indexOf(d)]})`})
  ]
}, 1080-MLc, 595.5);

// GeneRatio key
label("GeneRatio", 1723, 822, 32);
place({width:100, height:80, margin:0,
  x:{domain:[0,1], range:[0,100], axis:null},
  y:{type:"point", domain:ratioTicks, range:[20,58], padding:0, round:false, axis:null},
  r:rScale,
  marks:[
    Plot.dot(ratioTicks,{x:.16,y:d=>d,r:d=>d,fill:"#000"}),
    Plot.text(ratioTicks,{x:.36,y:d=>d,text:d=>d3.format(".2f")(d),textAnchor:"start",fontSize:22,fill:"#000"})
  ]
}, 1648, 838);

// p.adjust key
label("p.adjust", 1704, 953, 32);
const pKey = d3.range(0,.046,.001).map(v => ({v}));
place({width:25+50, height:122, marginLeft:0, marginRight:50, marginTop:0, marginBottom:0,
  x:{domain:[0,1], axis:null},
  y:{domain:[0,.046], range:[122,0]},
  color:pColor,
  marks:[
    Plot.rect(pKey,{x1:0,x2:1,y1:"v",y2:d=>d.v+.001,fill:"v",shapeRendering:"crispEdges"}),
    Plot.ruleY(padjustTicks,{x1:0,x2:.2,stroke:"#fff"}),
    Plot.ruleY(padjustTicks,{x1:.8,x2:1,stroke:"#fff"}),
    Plot.axisY({anchor:"right",ticks:padjustTicks,tickSize:0,tickPadding:6,fontSize:22,label:null,tickFormat:d3.format(".2f")})
  ]
}, 1648, 977);
</script>
</body>
</html>
